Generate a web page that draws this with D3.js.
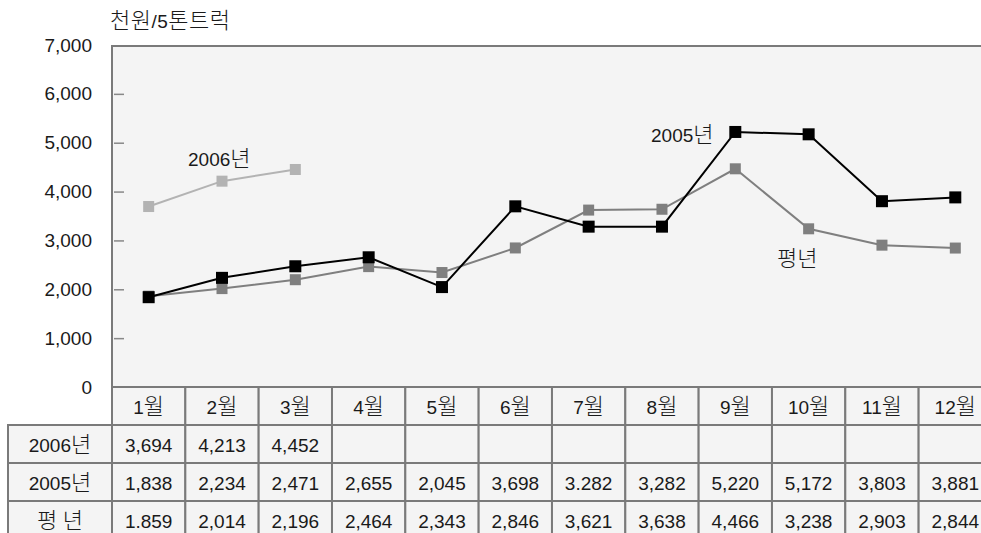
<!DOCTYPE html>
<html><head><meta charset="utf-8">
<script src="https://cdn.jsdelivr.net/npm/d3@7"></script>
<style>
html,body{margin:0;padding:0;background:#fff;}
text{font-family:"Liberation Sans","Noto Sans CJK KR",sans-serif;}
</style></head>
<body><svg id="c" width="981" height="533"></svg>
<script>
const months = ["1월","2월","3월","4월","5월","6월","7월","8월","9월","10월","11월","12월"];
const yTicks = [0,1000,2000,3000,4000,5000,6000,7000];
const s2006 = [3694,4213,4452];
const s2005 = [1838,2234,2471,2655,2045,3698,3282,3282,5220,5172,3803,3881];
const sAvg  = [1859,2014,2196,2464,2343,2846,3621,3638,4466,3238,2903,2844];
const rowNames = ["2006년","2005년","평 년"];
const t2006 = ["3,694","4,213","4,452","","","","","","","","",""];
const t2005 = ["1,838","2,234","2,471","2,655","2,045","3,698","3.282","3,282","5,220","5,172","3,803","3,881"];
const tAvg  = ["1.859","2,014","2,196","2,464","2,343","2,846","3,621","3,638","4,466","3,238","2,903","2,844"];
const unitLabel = "천원/5톤트럭";

const svg = d3.select("#c");
const L = 112, T = 45, B = 387, colW = 73.33, R = L + colW*12;
const x = d3.scaleBand().domain(months).range([L, R]).padding(0);
const y = d3.scaleLinear().domain([0,7000]).range([B, T]);
const border = "#7a7a7a", bg = "#f4f4f4", FS = 19, HFS = 22;
const ff = '"Liberation Sans",sans-serif';
const hf = '"Noto Sans CJK KR",sans-serif';

// text with Hangul runs in a CJK font
function mtext(parent, str, px, py, anchor, extra){
  const t = parent.append("text").attr("x",px).attr("y",py).attr("text-anchor",anchor||"start")
    .attr("fill","#1a1a1a");
  if (extra) extra(t);
  str.split(/([\uAC00-\uD7A3]+)/).filter(s=>s.length).forEach(part=>{
    const isH = /[\uAC00-\uD7A3]/.test(part);
    t.append("tspan").attr("font-family", isH?hf:ff).attr("font-size", isH?HFS:FS)
      .attr("font-weight", isH?300:400).text(part);
  });
  return t;
}

// plot background
svg.append("rect").attr("x",L).attr("y",T+1).attr("width",R-L).attr("height",B-T-1)
  .attr("fill",bg).attr("stroke",border).attr("stroke-width",2);

// y labels
const ya = svg.append("g").attr("transform",`translate(${L},0)`)
  .call(d3.axisLeft(y).tickValues(yTicks).tickSize(0).tickPadding(20).tickFormat(d3.format(",")));
ya.select(".domain").remove();
ya.selectAll("text").attr("font-size",FS).attr("fill","#1a1a1a").attr("font-family",ff);

// inner ticks
const yi = svg.append("g").attr("transform",`translate(${L+2},0)`)
  .call(d3.axisRight(y).tickValues(yTicks.filter(d=>d>0&&d<7000)).tickSize(10).tickFormat(""));
yi.select(".domain").remove();
yi.selectAll("line").attr("stroke","#888").attr("stroke-width",1.5);

// unit
mtext(svg, unitLabel, 110, 28, "start", t=>t.attr("letter-spacing",0.5));

// lines
const cx = (i)=> x(months[i]) + x.bandwidth()/2;
function series(data, color, size, lw){
  const line = d3.line().x((d,i)=>cx(i)).y(d=>y(d));
  svg.append("path").datum(data).attr("d",line).attr("fill","none").attr("stroke",color).attr("stroke-width",lw);
  svg.append("g").selectAll("rect").data(data).join("rect")
    .attr("x",(d,i)=>cx(i)-size/2).attr("y",d=>y(d)-size/2)
    .attr("width",size).attr("height",size).attr("fill",color);
}
series(sAvg, "#7f7f7f", 11, 2);
series(s2005, "#000", 12, 2);
series(s2006, "#b3b3b3", 11, 2);

// series labels
mtext(svg, "2006년", 188, 166);
mtext(svg, "2005년", 651, 142);
mtext(svg, "평년", 777, 266);

// table
const rowH = 38, base = rowH/2 + 8;
const tb = svg.append("g");
months.forEach((m,i)=>{
  tb.append("rect").attr("x",x(m)).attr("y",B).attr("width",colW).attr("height",rowH)
    .attr("fill",bg).attr("stroke",border).attr("stroke-width",2);
  mtext(tb, m, x(m)+colW/2, B+base, "middle");
});
const rows = [t2006, t2005, tAvg];
rows.forEach((r,ri)=>{
  const ry = B + rowH*(ri+1);
  tb.append("rect").attr("x",8).attr("y",ry).attr("width",L-8).attr("height",rowH)
    .attr("fill",bg).attr("stroke",border).attr("stroke-width",2);
  mtext(tb, rowNames[ri], (8+L)/2, ry+base, "middle");
  r.forEach((v,i)=>{
    tb.append("rect").attr("x",x(months[i])).attr("y",ry).attr("width",colW).attr("height",rowH)
      .attr("fill",bg).attr("stroke",border).attr("stroke-width",2);
    mtext(tb, v, x(months[i])+colW/2, ry+base, "middle");
  });
});
</script></body></html>
